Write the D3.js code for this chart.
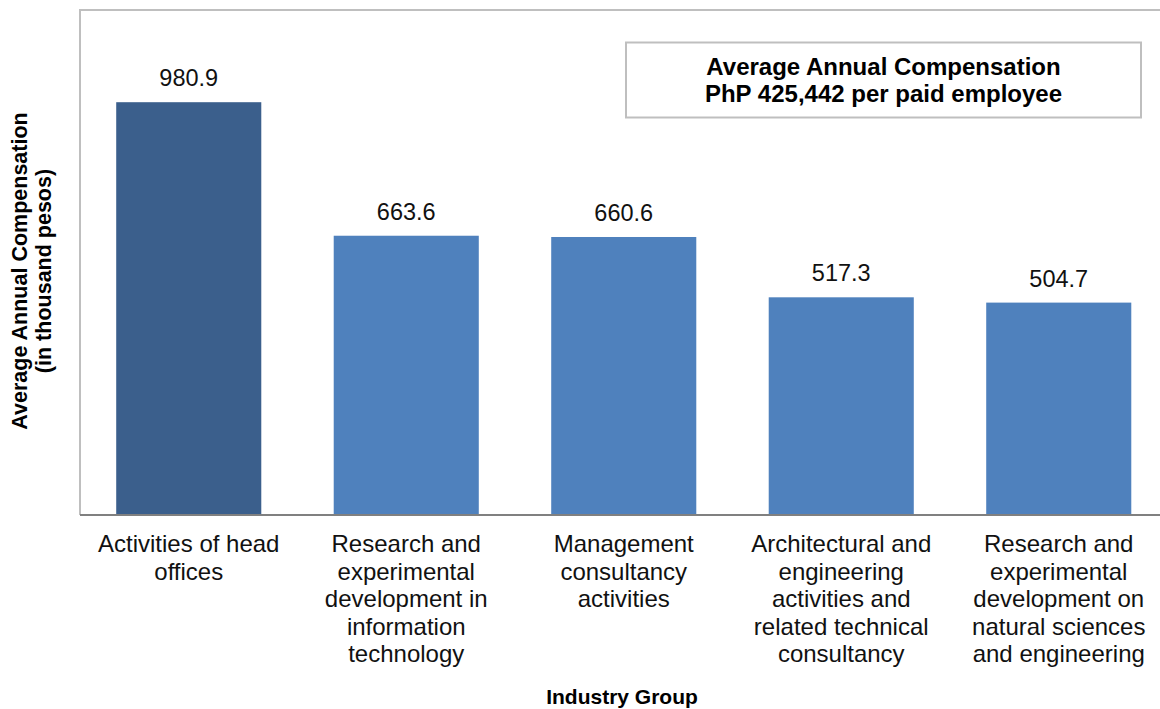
<!DOCTYPE html>
<html>
<head>
<meta charset="utf-8">
<script src="https://cdn.jsdelivr.net/npm/d3@7"></script>
<style>
  body { margin: 0; background: #fff; }
  text { font-family: "Liberation Sans", Arial, sans-serif; }
</style>
</head>
<body>
<script>
"use strict"

// chart data
const categories = [
	'Activities of head offices',
	'Research and experimental development in information technology',
	'Management consultancy activities',
	'Architectural and engineering activities and related technical consultancy',
	'Research and experimental development on natural sciences and engineering'
];
const tickLines = [
	['Activities of head', 'offices'],
	['Research and', 'experimental', 'development in', 'information', 'technology'],
	['Management', 'consultancy', 'activities'],
	['Architectural and', 'engineering', 'activities and', 'related technical', 'consultancy'],
	['Research and', 'experimental', 'development on', 'natural sciences', 'and engineering']
];
const values = [980.9, 663.6, 660.6, 517.3, 504.7];
const barColors = ['#3b5f8c', '#4f81bd', '#4f81bd', '#4f81bd', '#4f81bd'];
const yMax = 1200;
const boxLines = ['Average Annual Compensation', 'PhP 425,442 per paid employee'];

const w = 1160;
const h = 709;
const plotLeft = 80, plotTop = 10, plotBottom = 515, plotRight = 1167.5;

const mySvg = d3.select('body')
	.append('svg')
	.attr('width', w)
	.attr('height', h);

const xScale = d3.scaleBand()
	.domain(categories)
	.range([plotLeft, plotRight])
	.paddingInner(0.333)
	.paddingOuter(0.1665);

const yScale = d3.scaleLinear()
	.domain([0, yMax])
	.range([plotBottom, plotTop]);

// plot area frame (top + left)
mySvg.append('path')
	.attr('d', `M${plotLeft},${plotBottom} V${plotTop} H${w + 5}`)
	.attr('fill', 'none')
	.attr('stroke', '#bfbfbf')
	.attr('stroke-width', 2);

mySvg.selectAll('rect.bar')
	.data(values)
	.enter()
	.append('rect')
	.attr('class', 'bar')
	.attr('x', (d, i) => xScale(categories[i]))
	.attr('y', d => yScale(d))
	.attr('width', xScale.bandwidth())
	.attr('height', d => yScale(0) - yScale(d))
	.attr('fill', (d, i) => barColors[i]);

mySvg.selectAll('text.val')
	.data(values)
	.enter()
	.append('text')
	.attr('class', 'val')
	.attr('x', (d, i) => xScale(categories[i]) + xScale.bandwidth() / 2)
	.attr('y', d => yScale(d) - 16)
	.attr('text-anchor', 'middle')
	.attr('font-size', 23.5)
	.attr('fill', '#111')
	.text(d => d.toFixed(1));

// x axis
const xAxis = d3.axisBottom(xScale).tickSize(0).tickFormat('');
const gx = mySvg.append('g')
	.attr('transform', `translate(0, ${plotBottom})`)
	.call(xAxis);
gx.select('.domain')
	.attr('stroke', '#808080')
	.attr('stroke-width', 2)
	.attr('d', `M${plotLeft},0 H${w + 5}`);

gx.selectAll('.tick').each(function (d, i) {
	const t = d3.select(this).append('text')
		.attr('text-anchor', 'middle')
		.attr('font-size', 24)
		.attr('fill', '#111')
		.attr('y', 37);
	tickLines[i].forEach((line, j) => {
		t.append('tspan').attr('x', 0).attr('dy', j === 0 ? 0 : 27.5).text(line);
	});
});

// axis titles
mySvg.append('text')
	.attr('transform', 'translate(27, 271) rotate(-90)')
	.attr('text-anchor', 'middle')
	.attr('font-size', 21.5)
	.attr('font-weight', 'bold')
	.selectAll('tspan')
	.data(['Average Annual Compensation', '(in thousand pesos)'])
	.enter()
	.append('tspan')
	.attr('x', 0)
	.attr('dy', (d, i) => i === 0 ? 0 : 24)
	.text(d => d);

mySvg.append('text')
	.attr('x', 622)
	.attr('y', 704)
	.attr('text-anchor', 'middle')
	.attr('font-size', 21)
	.attr('font-weight', 'bold')
	.text('Industry Group');

// info box
mySvg.append('rect')
	.attr('x', 626)
	.attr('y', 42.5)
	.attr('width', 515)
	.attr('height', 75)
	.attr('fill', '#fff')
	.attr('stroke', '#bfbfbf')
	.attr('stroke-width', 2);

mySvg.append('text')
	.attr('text-anchor', 'middle')
	.attr('font-size', 24)
	.attr('font-weight', 'bold')
	.selectAll('tspan')
	.data(boxLines)
	.enter()
	.append('tspan')
	.attr('x', 883.5)
	.attr('y', (d, i) => 75 + i * 27)
	.text(d => d);
</script>
</body>
</html>
